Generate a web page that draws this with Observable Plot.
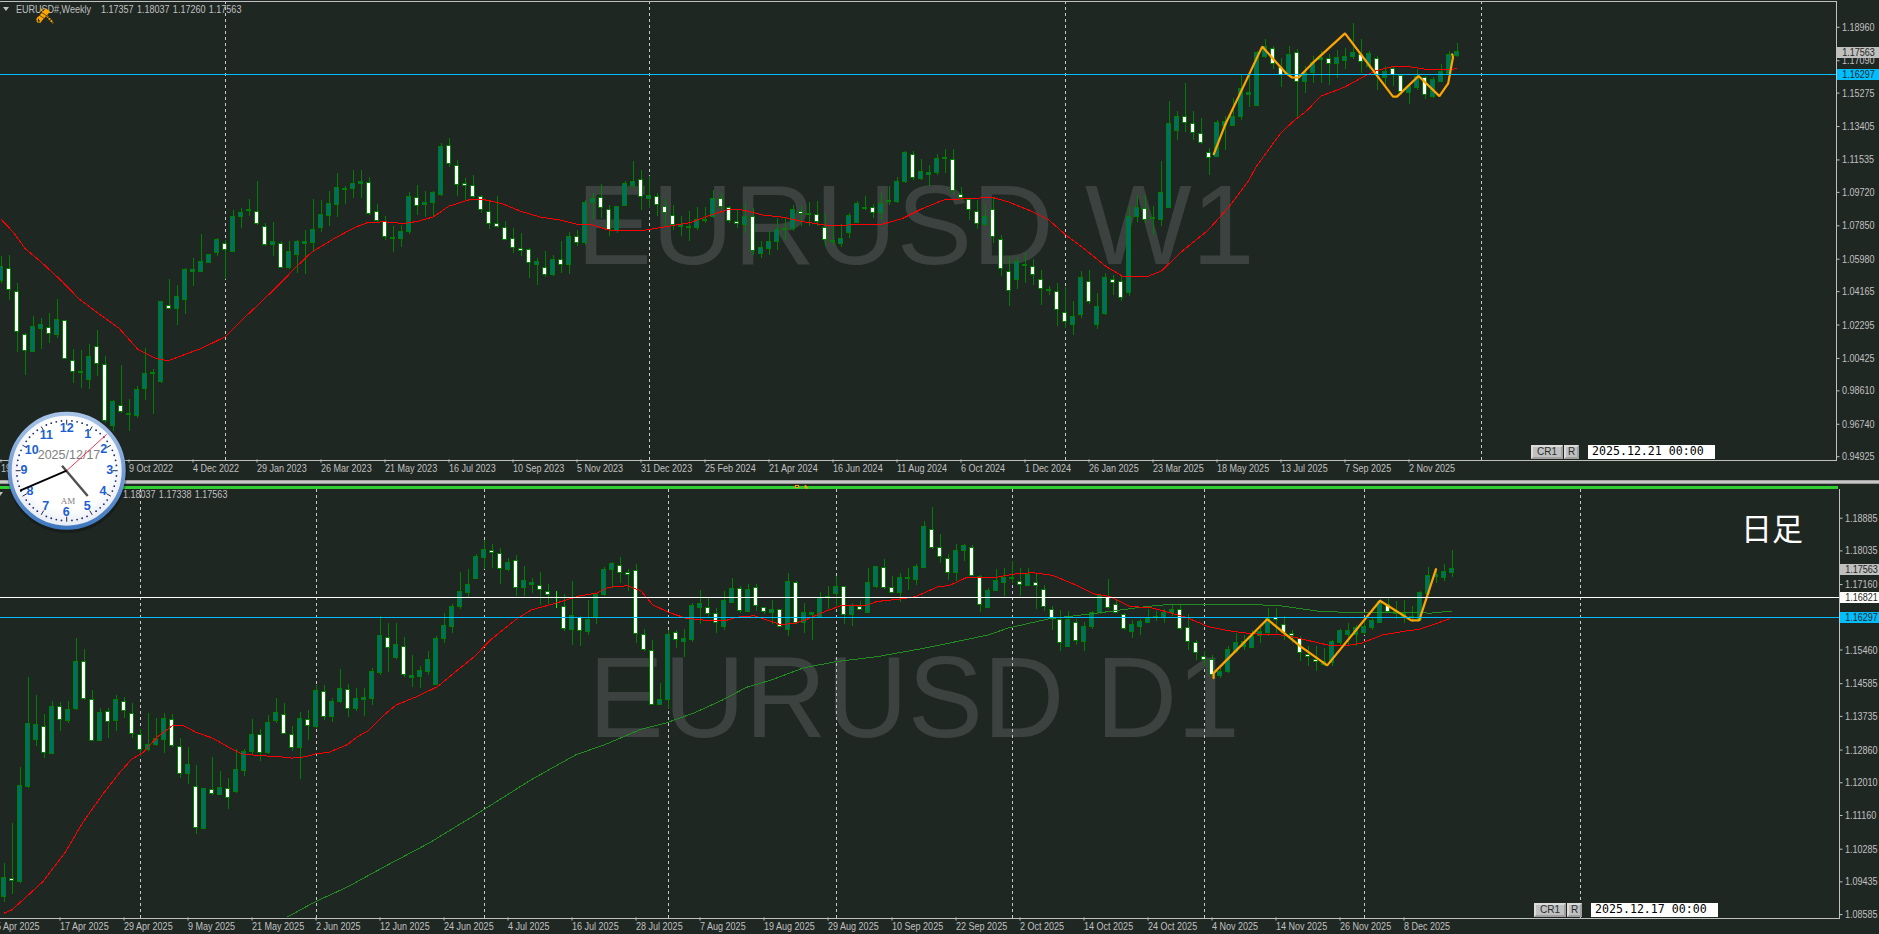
<!DOCTYPE html>
<html><head><meta charset="utf-8">
<script src="https://cdn.jsdelivr.net/npm/d3@7"></script>
<script src="https://cdn.jsdelivr.net/npm/@observablehq/plot@0.6"></script>
<style>
html,body{margin:0;padding:0;background:#1f2723;width:1879px;height:934px;overflow:hidden}
#top,#bot{position:absolute;left:0;width:1879px}
#top{top:0}#bot{top:480px}
.abs{position:absolute;white-space:pre}
.ui{font-family:"Liberation Sans",sans-serif;font-size:11px;color:#c0c0c0;line-height:12px;transform:scaleX(.82);transform-origin:0 0}
.btn{background:#c0c0c0;color:#26302c;text-align:center;box-sizing:border-box;border:2px solid #dcdcdc;border-right-color:#a0a0a0;border-bottom-color:#a0a0a0;line-height:10px;font-family:"Liberation Sans",sans-serif;font-size:10px}
.datebox{background:#fff;color:#000;font-family:"DejaVu Sans Mono",monospace;font-size:11.6px;line-height:13px;box-sizing:border-box;padding-left:4px}
.tri{position:absolute;width:0;height:0;border-left:3.5px solid transparent;border-right:3.5px solid transparent;border-top:4px solid #c0c0c0}
</style></head><body>
<div id="top"></div><div id="bot"></div>
<script>
// ---------- Weekly panel values ----------
const wHigh=[1.0611,1.0617,1.0462,1.0182,1.0279,1.0266,1.0294,1.0374,1.0257,1.0092,1.0085,1.0120,1.0201,1.0055,0.9809,1.0005,0.9812,0.9883,1.0098,0.9982,1.0363,1.0484,1.0453,1.0546,1.0602,1.0738,1.0621,1.0714,1.0705,1.0873,1.0882,1.0933,1.1035,1.0798,1.0804,1.0695,1.0695,1.0705,1.0761,1.0934,1.0929,1.0979,1.1080,1.1003,1.1097,1.1097,1.1056,1.0906,1.0835,1.0779,1.0789,1.0972,1.1013,1.0979,1.0975,1.1246,1.1274,1.1153,1.1050,1.1069,1.0957,1.0929,1.0951,1.0811,1.0770,1.0742,1.0658,1.0602,1.0639,1.0621,1.0695,1.0746,1.0761,1.0929,1.0966,1.1017,1.0901,1.0895,1.1032,1.1144,1.1097,1.1059,1.0966,1.0933,1.0901,1.0835,1.0863,1.0888,1.0888,1.0985,1.0966,1.0895,1.0869,1.0910,1.0882,1.0695,1.0751,1.0826,1.0826,1.0901,1.0891,1.0916,1.0919,1.0854,1.0783,1.0794,1.0854,1.0919,1.0951,1.0906,1.0966,1.1007,1.1054,1.1200,1.1200,1.1157,1.1125,1.1186,1.1213,1.1214,1.0999,1.0934,1.0929,1.0906,1.0942,1.0733,1.0615,1.0608,1.0630,1.0596,1.0537,1.0447,1.0462,1.0440,1.0359,1.0527,1.0537,1.0406,1.0518,1.0509,1.0509,1.0891,1.0957,1.0953,1.0891,1.1147,1.1480,1.1424,1.1579,1.1427,1.1383,1.1218,1.1373,1.1396,1.1498,1.1629,1.1638,1.1760,1.1829,1.1791,1.1722,1.1791,1.1769,1.1676,1.1732,1.1760,1.1741,1.1765,1.1778,1.1918,1.1825,1.1760,1.1732,1.1676,1.1676,1.1629,1.1582,1.1657,1.1620,1.1616,1.1685,1.1760,1.18037];
const wLow=[1.0462,1.0369,1.0074,0.9949,1.0079,1.0094,1.0126,1.0154,1.0036,0.9902,0.9874,0.9868,0.9943,0.9678,0.9631,0.9734,0.9631,0.9706,0.9809,0.9730,0.9902,1.0322,1.0225,1.0290,1.0443,1.0527,1.0574,1.0611,1.0484,1.0639,1.0768,1.0835,1.0789,1.0671,1.0611,1.0546,1.0540,1.0518,1.0514,1.0639,1.0748,1.0779,1.0830,1.0906,1.0938,1.0938,1.0845,1.0798,1.0705,1.0634,1.0666,1.0737,1.0845,1.0832,1.0835,1.0947,1.1112,1.0947,1.0929,1.0938,1.0854,1.0764,1.0772,1.0701,1.0630,1.0615,1.0488,1.0449,1.0496,1.0503,1.0518,1.0514,1.0671,1.0677,1.0817,1.0826,1.0723,1.0742,1.0891,1.0994,1.0873,1.0882,1.0835,1.0779,1.0761,1.0723,1.0695,1.0761,1.0798,1.0826,1.0873,1.0798,1.0770,1.0742,1.0621,1.0602,1.0621,1.0649,1.0705,1.0751,1.0779,1.0783,1.0779,1.0667,1.0677,1.0664,1.0714,1.0798,1.0869,1.0824,1.0817,1.0901,1.0910,1.1022,1.1041,1.1041,1.1003,1.1069,1.1078,1.0957,1.0929,1.0817,1.0764,1.0779,1.0686,1.0499,1.0331,1.0428,1.0462,1.0453,1.0341,1.0397,1.0223,1.0210,1.0173,1.0266,1.0346,1.0206,1.0281,1.0397,1.0359,1.0387,1.0802,1.0798,1.0733,1.0779,1.0882,1.1261,1.1306,1.1265,1.1242,1.1065,1.1168,1.1209,1.1340,1.1377,1.1448,1.1452,1.1722,1.1657,1.1558,1.1629,1.1386,1.1526,1.1582,1.1579,1.1573,1.1607,1.1657,1.1717,1.1638,1.1657,1.1541,1.1554,1.1564,1.1517,1.1466,1.1541,1.1493,1.1498,1.1586,1.1629,1.17260];
const wOpen=[1.0477,1.0544,1.0415,1.0174,1.0081,1.0208,1.0212,1.0174,1.0253,1.0029,0.9967,0.9924,1.0107,1.0007,0.9667,0.9779,0.9732,0.9719,0.9874,0.9956,0.9908,1.0337,1.0320,1.0371,1.0527,1.0527,1.0578,1.0634,1.0684,1.0641,1.0832,1.0867,1.0863,1.0779,1.0679,1.0682,1.0546,1.0623,1.0684,1.0686,1.0774,1.0841,1.0903,1.0987,1.0992,1.1020,1.1026,1.0863,1.0806,1.0718,1.0712,1.0748,1.0942,1.0903,1.0910,1.0959,1.1233,1.1121,1.1018,1.1009,1.0946,1.0863,1.0796,1.0774,1.0712,1.0656,1.0651,1.0567,1.0550,1.0507,1.0593,1.0567,1.0723,1.0686,1.0910,1.0940,1.0873,1.0755,1.0897,1.1005,1.1041,1.0936,1.0947,1.0890,1.0841,1.0779,1.0774,1.0774,1.0811,1.0832,1.0934,1.0884,1.0806,1.0787,1.0834,1.0628,1.0653,1.0692,1.0761,1.0768,1.0862,1.0845,1.0847,1.0774,1.0701,1.0684,1.0742,1.0802,1.0878,1.0886,1.0856,1.0925,1.0916,1.1028,1.1183,1.1045,1.1071,1.1078,1.1157,1.1155,1.0957,1.0929,1.0863,1.0789,1.0873,1.0705,1.0526,1.0479,1.0561,1.0555,1.0483,1.0421,1.0415,1.0298,1.0231,1.0283,1.0470,1.0232,1.0292,1.0483,1.0471,1.0406,1.0835,1.0880,1.0822,1.0820,1.0886,1.1313,1.1396,1.1354,1.1300,1.1190,1.1172,1.1343,1.1345,1.1396,1.1519,1.1455,1.1728,1.1776,1.1666,1.1629,1.1754,1.1592,1.1642,1.1713,1.1720,1.1692,1.1709,1.1728,1.1741,1.1676,1.1720,1.1614,1.1663,1.1623,1.1530,1.1554,1.1612,1.1508,1.1590,1.1635,1.17357];
const wClose=[1.0555,1.0428,1.0188,1.0085,1.0216,1.0227,1.0182,1.0260,1.0042,0.9965,0.9960,1.0048,1.0014,0.9693,0.9801,0.9745,0.9725,0.9865,0.9958,0.9960,1.0356,1.0322,1.0389,1.0540,1.0535,1.0585,1.0619,1.0703,1.0649,1.0832,1.0854,1.0871,1.0793,1.0680,1.0695,1.0548,1.0636,1.0697,1.0692,1.0759,1.0843,1.0905,1.0994,1.0992,1.1018,1.1028,1.0850,1.0809,1.0725,1.0710,1.0748,1.0944,1.0893,1.0910,1.0966,1.1224,1.1129,1.1013,1.1007,1.0944,1.0871,1.0793,1.0776,1.0705,1.0658,1.0643,1.0574,1.0585,1.0507,1.0596,1.0568,1.0725,1.0686,1.0910,1.0936,1.0886,1.0761,1.0891,1.1017,1.1032,1.0947,1.0949,1.0899,1.0858,1.0789,1.0789,1.0779,1.0820,1.0817,1.0936,1.0888,1.0811,1.0794,1.0835,1.0643,1.0658,1.0692,1.0764,1.0768,1.0871,1.0852,1.0850,1.0806,1.0705,1.0695,1.0712,1.0837,1.0905,1.0882,1.0856,1.0908,1.0918,1.1028,1.1190,1.1052,1.1086,1.1078,1.1160,1.1162,1.0977,1.0938,1.0873,1.0794,1.0835,1.0723,1.0544,1.0419,1.0580,1.0568,1.0509,1.0430,1.0428,1.0313,1.0244,1.0272,1.0490,1.0356,1.0328,1.0490,1.0462,1.0380,1.0835,1.0882,1.0817,1.0828,1.0966,1.1353,1.1392,1.1358,1.1304,1.1248,1.1164,1.1358,1.1368,1.1392,1.1549,1.1526,1.1754,1.1788,1.1691,1.1629,1.1739,1.1592,1.1638,1.1694,1.1722,1.1691,1.1722,1.1732,1.1750,1.1700,1.1745,1.1629,1.1648,1.1629,1.1536,1.1560,1.1616,1.1515,1.1601,1.1646,1.1739,1.17563];
const wMaBar=[0,1.5,3,5,7.7,9.7,12.2,14.8,17.1,19.4,20.9,22.4,25,28,30.1,32.1,34.7,36.7,38.8,41.8,44.4,45.9,48,50.3,52,54,56,58.7,60.7,62.8,64.8,67.3,69.9,72,74,76,80,83,86.1,88.7,91,92.8,95.3,97.9,100.4,103,105.5,110.1,112.7,115.2,117.8,120.3,123.9,125.9,129,131,133.1,135.6,138.2,140.2,143.3,145.1,147.3,150.9,153.5,156,156.9,160,161.5,163.3,165,167.9,170.7,171.9,174,176,178.6,180.9,182];
const wMaVal=[1.0822,1.0751,1.0658,1.0583,1.0471,1.0378,1.0294,1.0210,1.0094,1.0042,1.0029,1.0055,1.0098,1.0163,1.0257,1.0341,1.0453,1.0546,1.0636,1.0718,1.0779,1.0804,1.0807,1.0798,1.0809,1.0834,1.0895,1.0933,1.0929,1.0906,1.0869,1.0835,1.0817,1.0793,1.0789,1.0761,1.0757,1.0779,1.0802,1.0845,1.0877,1.0873,1.0845,1.0832,1.0807,1.0789,1.0789,1.0793,1.0826,1.0882,1.0929,1.0936,1.0944,1.0919,1.0863,1.0817,1.0733,1.0649,1.0555,1.0503,1.0501,1.0533,1.0630,1.0761,1.0891,1.1041,1.1116,1.1306,1.1368,1.1433,1.1511,1.1560,1.1629,1.1653,1.1676,1.1676,1.1657,1.1657,1.1666];
const wZigBar=[151.6,153,155,157.65,160.6,161.4,162.2,164,168,174,174.5,177.2,179.8,180.9,181.5,181.4];
const wZigVal=[1.1186,1.1349,1.1536,1.1788,1.1640,1.1615,1.1615,1.1698,1.1862,1.1508,1.1508,1.1623,1.1511,1.1582,1.1728,1.1745];
const wPriceTicks=[1.18960,1.17090,1.15275,1.13405,1.11535,1.09720,1.07850,1.05980,1.04165,1.02295,1.00425,0.98610,0.96740,0.94925];
const wDateBars=[0,8,16,24,32,40,48,56,64,72,80,88,96,104,112,120,128,136,144,152,160,168,176];
const wDateText=["19 Jun 2022","14 Aug 2022","9 Oct 2022","4 Dec 2022","29 Jan 2023","26 Mar 2023","21 May 2023","16 Jul 2023","10 Sep 2023","5 Nov 2023","31 Dec 2023","25 Feb 2024","21 Apr 2024","16 Jun 2024","11 Aug 2024","6 Oct 2024","1 Dec 2024","26 Jan 2025","23 Mar 2025","18 May 2025","13 Jul 2025","7 Sep 2025","2 Nov 2025"];
const wSeparators=[28,81,133,185];

// ---------- Daily panel values ----------
const dHigh=[1.0992,1.1096,1.1242,1.1475,1.1427,1.1379,1.1413,1.1410,1.1412,1.1575,1.1548,1.1440,1.1395,1.1393,1.1427,1.1423,1.1406,1.1339,1.1382,1.1369,1.1382,1.1379,1.1317,1.1293,1.1245,1.1187,1.1267,1.1230,1.1213,1.1288,1.1287,1.1365,1.1339,1.1377,1.1419,1.1408,1.1347,1.1384,1.1390,1.1455,1.1455,1.1421,1.1496,1.1457,1.1447,1.1447,1.1499,1.1633,1.1616,1.1616,1.1579,1.1531,1.1503,1.1542,1.1581,1.1642,1.1665,1.1747,1.1756,1.1793,1.1830,1.1819,1.1810,1.1785,1.1791,1.1763,1.1733,1.1748,1.1715,1.1698,1.1691,1.1723,1.1633,1.1675,1.1694,1.1761,1.1773,1.1787,1.1754,1.1767,1.1600,1.1571,1.1460,1.1597,1.1598,1.1600,1.1668,1.1700,1.1679,1.1655,1.1698,1.1731,1.1711,1.1715,1.1717,1.1657,1.1674,1.1650,1.1744,1.1724,1.1666,1.1642,1.1695,1.1711,1.1737,1.1711,1.1668,1.1672,1.1759,1.1763,1.1780,1.1737,1.1746,1.1759,1.1767,1.1880,1.1917,1.1847,1.1793,1.1819,1.1819,1.1817,1.1739,1.1707,1.1754,1.1759,1.1776,1.1759,1.1759,1.1746,1.1713,1.1659,1.1648,1.1646,1.1624,1.1617,1.1646,1.1689,1.1728,1.1675,1.1640,1.1623,1.1624,1.1650,1.1646,1.1650,1.1663,1.1663,1.1637,1.1572,1.1542,1.1533,1.1503,1.1555,1.1590,1.1585,1.1598,1.1603,1.1655,1.1655,1.1633,1.1598,1.1581,1.1555,1.1555,1.1551,1.1572,1.1600,1.1614,1.1609,1.1624,1.1629,1.1678,1.1681,1.1672,1.1675,1.1659,1.1698,1.1761,1.1754,1.1769,1.18037];
const dLow=[1.0890,1.0912,1.0940,1.1187,1.1295,1.1264,1.1276,1.1334,1.1356,1.1389,1.1416,1.1308,1.1308,1.1316,1.1334,1.1369,1.1316,1.1269,1.1282,1.1295,1.1278,1.1293,1.1213,1.1196,1.1066,1.1081,1.1167,1.1167,1.1131,1.1174,1.1217,1.1274,1.1256,1.1274,1.1356,1.1326,1.1282,1.1209,1.1310,1.1343,1.1363,1.1358,1.1408,1.1371,1.1386,1.1373,1.1403,1.1481,1.1487,1.1522,1.1475,1.1449,1.1446,1.1481,1.1453,1.1564,1.1590,1.1652,1.1681,1.1728,1.1754,1.1759,1.1715,1.1750,1.1685,1.1685,1.1694,1.1662,1.1663,1.1655,1.1594,1.1559,1.1555,1.1585,1.1611,1.1685,1.1707,1.1720,1.1698,1.1564,1.1542,1.1402,1.1401,1.1392,1.1551,1.1526,1.1565,1.1611,1.1630,1.1590,1.1597,1.1668,1.1642,1.1643,1.1646,1.1637,1.1611,1.1605,1.1581,1.1611,1.1590,1.1572,1.1630,1.1650,1.1659,1.1611,1.1607,1.1649,1.1642,1.1706,1.1704,1.1692,1.1669,1.1701,1.1713,1.1759,1.1808,1.1770,1.1726,1.1724,1.1776,1.1737,1.1643,1.1653,1.1698,1.1685,1.1720,1.1685,1.1711,1.1652,1.1646,1.1598,1.1542,1.1553,1.1559,1.1542,1.1600,1.1637,1.1652,1.1640,1.1597,1.1575,1.1585,1.1614,1.1620,1.1616,1.1633,1.1598,1.1546,1.1520,1.1503,1.1477,1.1473,1.1486,1.1538,1.1546,1.1551,1.1562,1.1581,1.1590,1.1572,1.1564,1.1516,1.1503,1.1490,1.1503,1.1503,1.1559,1.1555,1.1555,1.1585,1.1598,1.1614,1.1640,1.1626,1.1614,1.1617,1.1620,1.1689,1.1720,1.1724,1.17338];
const dOpen=[1.0903,1.0952,1.0944,1.1191,1.1311,1.1347,1.1277,1.1397,1.1361,1.1394,1.1514,1.1415,1.1309,1.1384,1.1361,1.1412,1.1381,1.1326,1.1287,1.1300,1.1312,1.1365,1.1295,1.1223,1.1189,1.1082,1.1183,1.1169,1.1186,1.1177,1.1231,1.1282,1.1324,1.1278,1.1361,1.1378,1.1324,1.1291,1.1365,1.1345,1.1438,1.1371,1.1412,1.1443,1.1394,1.1416,1.1420,1.1485,1.1578,1.1526,1.1555,1.1474,1.1477,1.1490,1.1456,1.1574,1.1605,1.1657,1.1695,1.1730,1.1785,1.1804,1.1796,1.1755,1.1778,1.1706,1.1716,1.1713,1.1697,1.1665,1.1659,1.1597,1.1630,1.1592,1.1633,1.1688,1.1753,1.1765,1.1747,1.1752,1.1585,1.1544,1.1403,1.1416,1.1591,1.1568,1.1571,1.1655,1.1654,1.1639,1.1605,1.1668,1.1704,1.1646,1.1708,1.1654,1.1643,1.1649,1.1597,1.1721,1.1616,1.1638,1.1630,1.1681,1.1692,1.1709,1.1636,1.1657,1.1643,1.1709,1.1760,1.1707,1.1693,1.1730,1.1727,1.1760,1.1858,1.1810,1.1782,1.1746,1.1802,1.1812,1.1736,1.1656,1.1699,1.1721,1.1734,1.1724,1.1712,1.1720,1.1703,1.1650,1.1623,1.1555,1.1615,1.1566,1.1605,1.1643,1.1680,1.1664,1.1637,1.1594,1.1605,1.1616,1.1633,1.1629,1.1642,1.1650,1.1602,1.1565,1.1529,1.1519,1.1479,1.1488,1.1542,1.1555,1.1552,1.1582,1.1591,1.1628,1.1612,1.1588,1.1575,1.1533,1.1520,1.1507,1.1512,1.1565,1.1586,1.1585,1.1591,1.1604,1.1616,1.1663,1.1640,1.1633,1.1633,1.1624,1.1692,1.1735,1.1734,1.1746];
const dClose=[1.0953,1.0946,1.1192,1.1353,1.1351,1.1278,1.1397,1.1364,1.1390,1.1514,1.1420,1.1309,1.1382,1.1358,1.1416,1.1388,1.1328,1.1287,1.1300,1.1314,1.1366,1.1297,1.1224,1.1247,1.1083,1.1184,1.1172,1.1187,1.1162,1.1233,1.1282,1.1324,1.1279,1.1356,1.1382,1.1328,1.1292,1.1366,1.1349,1.1439,1.1372,1.1412,1.1444,1.1394,1.1418,1.1421,1.1488,1.1582,1.1552,1.1558,1.1481,1.1478,1.1491,1.1520,1.1574,1.1608,1.1657,1.1698,1.1714,1.1787,1.1806,1.1799,1.1757,1.1772,1.1707,1.1725,1.1720,1.1702,1.1688,1.1665,1.1601,1.1634,1.1596,1.1623,1.1690,1.1753,1.1769,1.1746,1.1741,1.1588,1.1546,1.1403,1.1416,1.1584,1.1572,1.1574,1.1660,1.1665,1.1640,1.1617,1.1673,1.1704,1.1648,1.1701,1.1661,1.1645,1.1649,1.1607,1.1722,1.1616,1.1642,1.1642,1.1681,1.1685,1.1709,1.1636,1.1660,1.1649,1.1719,1.1761,1.1707,1.1695,1.1733,1.1733,1.1761,1.1865,1.1810,1.1787,1.1746,1.1803,1.1816,1.1738,1.1662,1.1699,1.1726,1.1733,1.1731,1.1715,1.1740,1.1713,1.1658,1.1629,1.1564,1.1623,1.1570,1.1605,1.1643,1.1687,1.1654,1.1643,1.1600,1.1610,1.1618,1.1627,1.1630,1.1642,1.1650,1.1600,1.1567,1.1538,1.1520,1.1482,1.1490,1.1545,1.1564,1.1568,1.1581,1.1592,1.1627,1.1623,1.1590,1.1583,1.1538,1.1528,1.1515,1.1516,1.1568,1.1595,1.1595,1.1603,1.1607,1.1622,1.1672,1.1646,1.1646,1.1640,1.1628,1.1694,1.1738,1.1740,1.1750,1.17563];
const dMaBar=[0,1,2.6,4.9,7.7,9.8,12.3,14.4,15.9,17.4,19.2,21,22.5,24,26.1,28.1,29.7,31.7,34.3,36,37.8,38.9,40.6,42.9,44.2,45.5,47.5,49,51.6,54.2,56.7,58.8,60.8,63.9,65.9,69,72,74.1,75.6,77.9,79.6,81.1,83.2,85.2,87.2,90.3,91.5,93.8,96.9,98.7,100.5,102.6,104.6,107.9,109.1,112.2,114,116.8,118.1,120.4,124,126.5,128.6,131.1,134.2,136.2,138.3,140.8,143.4,145.9,148,150.5,153.1,156.1,159.6,161.6,163.6,165.9,168.2,169.7,172.3,174.8,176.9,178.9,180.7];
const dMaVal=[1.0862,1.0871,1.0901,1.0945,1.1022,1.1096,1.1170,1.1226,1.1261,1.1280,1.1321,1.1349,1.1349,1.1332,1.1317,1.1293,1.1276,1.1272,1.1269,1.1265,1.1269,1.1276,1.1280,1.1300,1.1321,1.1336,1.1377,1.1403,1.1425,1.1451,1.1494,1.1529,1.1572,1.1624,1.1650,1.1668,1.1687,1.1694,1.1709,1.1713,1.1700,1.1663,1.1643,1.1629,1.1624,1.1623,1.1631,1.1635,1.1613,1.1614,1.1627,1.1646,1.1661,1.1663,1.1672,1.1679,1.1685,1.1711,1.1713,1.1735,1.1735,1.1744,1.1747,1.1740,1.1713,1.1692,1.1685,1.1659,1.1656,1.1642,1.1629,1.1607,1.1596,1.1588,1.1585,1.1578,1.1568,1.1557,1.1559,1.1564,1.1585,1.1594,1.1600,1.1614,1.1627];
const dLongMaBar=[35.4,39,42.9,48,53.1,59.8,65.9,71.5,75.1,79.6,82.7,86.2,89.8,92.8,95.9,100,104.1,109.2,114.3,118.4,123,125.5,130.6,136.7,142.8,145.9,155.1,159.5,164.6,169.7,174.8,178.4,180.9];
const dLongMaVal=[1.0852,1.0893,1.0930,1.0988,1.1044,1.1129,1.1209,1.1274,1.1300,1.1340,1.1356,1.1382,1.1416,1.1449,1.1468,1.1500,1.1516,1.1529,1.1548,1.1565,1.1585,1.1603,1.1627,1.1642,1.1659,1.1665,1.1665,1.1661,1.1646,1.1643,1.1643,1.1642,1.1647];
const dZigBar=[151.2,151.2,157.9,162.1,165.4,172,175.9,176.9,179];
const dZigVal=[1.1473,1.1486,1.1626,1.1555,1.1506,1.1674,1.1623,1.1623,1.1756];
const dPriceTicks=[1.18885,1.18035,1.17160,1.16310,1.15460,1.14585,1.13735,1.12860,1.12010,1.11160,1.10285,1.09435,1.08585];
const dDateBars=[-1,7,15,23,31,39,47,55,63,71,79,87,95,103,111,119,127,135,143,151,159,167,175];
const dDateText=["5 Apr 2025","17 Apr 2025","29 Apr 2025","9 May 2025","21 May 2025","2 Jun 2025","12 Jun 2025","24 Jun 2025","4 Jul 2025","16 Jul 2025","28 Jul 2025","7 Aug 2025","19 Aug 2025","29 Aug 2025","10 Sep 2025","22 Sep 2025","2 Oct 2025","14 Oct 2025","24 Oct 2025","4 Nov 2025","14 Nov 2025","26 Nov 2025","8 Dec 2025"];
const dSeparators=[17,39,60,83,104,126,150,170,197];

// ---------- Level lines and tags ----------
const wLevels=[1.16297];
const dLevels=[1.16821,1.16297];
const wTags=[{price:1.17563,bg:"#c0c0c0"},{price:1.16297,bg:"#00bfff"}];
const dTags=[{price:1.17563,bg:"#c0c0c0"},{price:1.16821,bg:"#ffffff"},{price:1.16297,bg:"#00bfff"}];

const GRID="#c8c8c8", AXIS="#c0c0c0", BG="#1f2723", WICK="#008000", BULL="#006e6e", WM="#3c4240";

function panel(o){
  if(o.h.length!==o.l.length||o.h.length!==o.op.length||o.h.length!==o.c.length) throw new Error("len "+[o.h.length,o.l.length,o.op.length,o.c.length]);
  const bars=o.h.map((h,i)=>({i,high:h,low:o.l[i],open:o.op[i],close:o.c[i]}));
  const line=(xs,ys)=>xs.map((x,i)=>({x,y:ys[i]}));
  const isDoji=d=>d.open===d.close;
  return Plot.plot({
    width:1879,height:o.height,
    marginLeft:0,marginRight:o.mr,marginTop:o.mt,marginBottom:o.mb,
    x:{domain:[0,229],range:[o.x0,o.x0+1832],axis:null},
    y:{domain:o.yDomain,range:o.yRange,axis:null},
    style:{background:BG,color:AXIS,fontFamily:'"Liberation Sans",sans-serif',fontSize:"11px",overflow:"hidden"},
    marks:[
      Plot.text([o.wm],{frameAnchor:"top-left",dx:o.wmX,dy:o.wmY,lineAnchor:"middle",textAnchor:"start",fontSize:o.wmSize,fill:WM,fontFamily:'"Liberation Sans",sans-serif'}),
      Plot.ruleX(o.sep,{stroke:GRID,strokeDasharray:"3,3",shapeRendering:"crispEdges"}),
      Plot.ruleX(bars,{x:"i",y1:"low",y2:"high",stroke:d=>isDoji(d)?"#00ff00":WICK,shapeRendering:"crispEdges"}),
      Plot.rect(bars,{x1:d=>d.i-.25,x2:d=>d.i+.25,y1:"open",y2:"close",fill:d=>isDoji(d)?"#00ff00":d.close>d.open?BULL:"#ffffff",stroke:d=>isDoji(d)?"#00ff00":WICK,shapeRendering:"crispEdges"}),
      o.longMa?Plot.line(line(...o.longMa),{x:"x",y:"y",stroke:"#228b22",strokeWidth:1,shapeRendering:"crispEdges"}):null,
      Plot.line(line(...o.ma),{x:"x",y:"y",stroke:"#ff0000",strokeWidth:1,shapeRendering:"crispEdges"}),
      Plot.line(line(...o.zig),{x:"x",y:"y",stroke:"#ffa500",strokeWidth:2.2,strokeLinejoin:"miter"}),
      Plot.ruleY(o.levels,{stroke:d=>d===1.16297?"#00bfff":"#ffffff",shapeRendering:"crispEdges"}),
      o.top?Plot.frame({anchor:"top",stroke:AXIS}):null,
      Plot.frame({anchor:"right",stroke:AXIS,shapeRendering:"crispEdges"}),
      Plot.frame({anchor:"bottom",stroke:AXIS,shapeRendering:"crispEdges"}),
      Plot.axisY(o.ticks,{anchor:"right",tickFormat:d3.format(".5f"),tickSize:3,tickPadding:3,color:AXIS,label:null}),
      Plot.axisX(o.dateBars,{anchor:"bottom",tickFormat:d=>o.dateText[o.dateBars.indexOf(d)],tickSize:3,tickPadding:1.5,textAnchor:"start",color:AXIS,label:null}),
      Plot.ruleY(o.tags,{y:"price",x1:()=>229.6,x2:()=>240,stroke:"bg",strokeWidth:11,shapeRendering:"crispEdges"}),
      Plot.text(o.tags,{y:"price",x:()=>230.15,text:d=>d3.format(".5f")(d.price),textAnchor:"start",lineAnchor:"middle",fill:"#1f2723"})
    ]
  });
}

const topEl=document.getElementById("top"),botEl=document.getElementById("bot");
topEl.append(panel({
  h:wHigh,l:wLow,op:wOpen,c:wClose,height:480,mr:43.5,mt:1,mb:20.5,x0:.5,
  yDomain:[0.94925,1.18960],yRange:[456.2,26.8],
  wm:"EURUSD W1",wmX:576,wmY:226,wmSize:113,
  sep:wSeparators,ma:[wMaBar,wMaVal],zig:[wZigBar,wZigVal],levels:wLevels,top:true,
  ticks:wPriceTicks,dateBars:wDateBars,dateText:wDateText,tags:wTags
}));
botEl.append(panel({
  h:dHigh,l:dLow,op:dOpen,c:dClose,height:454,mr:40.5,mt:9,mb:16.5,x0:3.5,
  yDomain:[1.08585,1.18885],yRange:[434.1,37.7],
  wm:"EURUSD D1",wmX:588,wmY:211,wmSize:115,
  sep:dSeparators,ma:[dMaBar,dMaVal],longMa:[dLongMaBar,dLongMaVal],zig:[dZigBar,dZigVal],levels:dLevels,top:false,
  ticks:dPriceTicks,dateBars:dDateBars,dateText:dDateText,tags:dTags
}));
// the terminal's labels are narrow: squeeze the glyphs so they occupy the same width
document.querySelectorAll("#top svg text,#bot svg text").forEach(t=>{
  const size=parseFloat(getComputedStyle(t).fontSize);
  const s=t.textContent;
  const k=size>20?(s==="EURUSD D1"?.98:1):.82;
  if(k===1)return;
  t.setAttribute("textLength",t.getComputedTextLength()*k);
  t.setAttribute("lengthAdjust","spacingAndGlyphs");
});

// ---------- Terminal chrome around the charts ----------
function add(cls,css,text){const e=document.createElement("div");e.className=cls;e.style.cssText=css;if(text)e.textContent=text;document.body.append(e);return e;}
add("abs","left:0;top:480px;width:1879px;height:4px;background:linear-gradient(#8f8f8f,#dcdcdc 50%,#808080)");
add("abs","left:0;top:486px;width:1838px;height:3.4px;background:#32cd32");
add("tri","left:3px;top:7px");
add("tri","left:-3px;top:492px");
add("abs ui","left:15.5px;top:2.5px","EURUSD#,Weekly");
add("abs ui","left:101px;top:2.5px;word-spacing:1px","1.17357 1.18037 1.17260 1.17563");
add("abs ui","left:15.5px;top:487.5px","EURUSD#,Daily");
add("abs ui","left:87px;top:487.5px;word-spacing:1px","1.17463 1.18037 1.17338 1.17563");
add("abs","left:1741px;top:509px;color:#fff;font:31px/36px 'Noto Sans CJK JP',sans-serif","日足");
[[1531,445,"2025.12.21 00:00"],[1534,903,"2025.12.17 00:00"]].forEach(([x,y,t])=>{
  add("abs btn",`left:${x}px;top:${y}px;width:32px;height:14px`,"CR1");
  add("abs btn",`left:${x+33}px;top:${y}px;width:15px;height:14px`,"R");
  add("abs datebox",`left:${x+57}px;top:${y}px;width:127px;height:14px`,t);
});

// pencil icons and clock
const icon=document.createElement("div");
icon.className="abs";icon.style.cssText="left:0;top:0;width:140px;height:540px;pointer-events:none";
const ticks=d3.range(60).map(i=>{
  const a=i*Math.PI/30,s=Math.sin(a),c=-Math.cos(a),cx=66.7,cy=470.7,R=50;
  return i%5===0
   ? `<line x1="${cx+s*(R-4)}" y1="${cy+c*(R-4)}" x2="${cx+s*(R+1)}" y2="${cy+c*(R+1)}" stroke="#1f2a44" stroke-width="1"/>`
   : `<circle cx="${cx+s*R}" cy="${cy+c*R}" r="0.9" fill="#1a2b66"/>`;}).join("");
const nums=[[12,200,85],[1,263,102],[2,311,146],[3,329,210],[4,309,274],[5,262,318],[6,199,335],[7,137,318],[8,90,274],[9,72,210],[10,95,151],[11,139,105]]
 .map(([n,x,y])=>`<text x="${x/3}" y="${400+y/3}" fill="#1c5fd0" font-family="Liberation Sans,sans-serif" font-weight="700" font-size="12.5" text-anchor="middle" dominant-baseline="central">${n}</text>`).join("");
icon.innerHTML=`<svg width="140" height="540" style="position:absolute;left:0;top:0;overflow:visible">
<defs><radialGradient id="face" cx="50%" cy="45%" r="55%"><stop offset="70%" stop-color="#ffffff"/><stop offset="100%" stop-color="#e4e8f2"/></radialGradient>
<linearGradient id="rim" x1="0" y1="0" x2="0" y2="1"><stop offset="0" stop-color="#a8c4e8"/><stop offset="1" stop-color="#3f78c0"/></linearGradient></defs>
<g fill="none"><path d="M38 21 L48 10" stroke="#ffa500" stroke-width="5.5"/><path d="M38 17 l3 5 l-4 0 z" fill="#1f2723" stroke="#ffa500" stroke-width="1"/><path d="M41 9 L53 23" stroke="#ffa500" stroke-width="2" stroke-dasharray="2,1"/><path d="M41 12 L50 18 M39 15 L48 21" stroke="#3a3018" stroke-width=".8"/></g>
<circle cx="67.2" cy="473" r="60" fill="#000" opacity=".25"/>
<circle cx="66.7" cy="470.7" r="57" fill="url(#face)" stroke="url(#rim)" stroke-width="4"/>
${ticks}${nums}
<text x="69" y="455" fill="#808080" font-family="Liberation Sans,sans-serif" font-size="12.5" text-anchor="middle" dominant-baseline="central">2025/12/17</text>
<text x="68" y="500.5" fill="#808080" font-family="Liberation Serif,serif" font-size="9" text-anchor="middle" dominant-baseline="central">AM</text>
<line x1="62" y1="465.7" x2="87.7" y2="496" stroke="#505050" stroke-width="2.4"/>
<line x1="66.7" y1="470.7" x2="20" y2="490.7" stroke="#000" stroke-width="1.8"/>
<line x1="66.7" y1="470.7" x2="106.7" y2="434.3" stroke="#ee2244" stroke-width=".9"/>
</svg>`;
document.body.append(icon);
add("abs","left:795px;top:485px;width:4px;height:3px;border:1px solid #ffa500;background:#222;box-sizing:border-box");
add("abs","left:805px;top:485px;width:2px;height:4px;background:#ffa500;transform:rotate(-35deg)");
</script>
</body></html>
